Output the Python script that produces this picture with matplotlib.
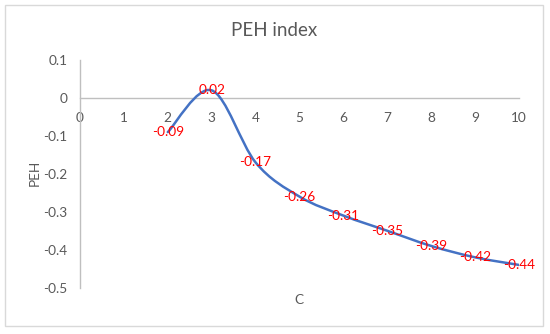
import matplotlib
matplotlib.use("Agg")
import matplotlib.pyplot as plt
from matplotlib.path import Path
from matplotlib.patches import PathPatch, Rectangle
import numpy as np

plt.rcParams['font.family'] = ['Lato', 'DejaVu Sans']

x_vals = [2, 3, 4, 5, 6, 7, 8, 9, 10]
peh_vals = [-0.09, 0.02, -0.17, -0.26, -0.31, -0.35, -0.39, -0.42, -0.44]
label_texts = ["-0.09", "0.02", "-0.17", "-0.26", "-0.31", "-0.35", "-0.39", "-0.42", "-0.44"]
x_ticks = list(range(0, 11))
y_ticks = [0.1, 0, -0.1, -0.2, -0.3, -0.4, -0.5]
y_tick_labels = ["0.1", "0", "-0.1", "-0.2", "-0.3", "-0.4", "-0.5"]

W, H = 550, 334
fig = plt.figure(figsize=(W / 100, H / 100), dpi=100)
ax = fig.add_axes([80 / W, (H - 287.7) / H, (519 - 80) / W, (287.7 - 60) / H])

axis_col = '#BFBFBF'
text_col = '#595959'

ax.set_xlim(0, 10)
ax.set_ylim(-0.5, 0.1)
for s in ['top', 'right']:
    ax.spines[s].set_visible(False)
ax.spines['bottom'].set_position(('data', 0))
ax.spines['bottom'].set_color(axis_col)
ax.spines['left'].set_color(axis_col)
ax.spines['bottom'].set_linewidth(1.0)
ax.spines['left'].set_linewidth(1.0)
ax.set_xticks(x_ticks)
ax.set_xticklabels([str(t) for t in x_ticks])
ax.set_yticks(y_ticks)
ax.set_yticklabels(y_tick_labels)
ax.tick_params(axis='both', length=0, labelsize=9.8, labelcolor=text_col)
ax.tick_params(axis='x', pad=10)
ax.tick_params(axis='y', pad=9)
ax.patch.set_alpha(0)

# Excel-like smoothed line (cubic Bezier through points)
pts = np.column_stack([x_vals, peh_vals]).astype(float)
n = len(pts)
verts = [pts[0]]
codes = [Path.MOVETO]
for i in range(n - 1):
    p0 = pts[i - 1] if i > 0 else pts[i]
    p1 = pts[i]
    p2 = pts[i + 1]
    p3 = pts[i + 2] if i + 2 < n else pts[i + 1]
    c1 = p1 + (p2 - p0) / 6.0
    c2 = p2 - (p3 - p1) / 6.0
    verts += [c1, c2, p2]
    codes += [Path.CURVE4] * 3
path = Path(verts, codes)
ax.add_patch(PathPatch(path, facecolor='none', edgecolor='#4472C4', lw=1.8,
                       capstyle='round', joinstyle='round', zorder=3))

for xv, yv, t in zip(x_vals, peh_vals, label_texts):
    ax.text(xv, yv, t, ha='center', va='center', color='#FF0000', fontsize=9.8, zorder=4)

fig.text(274 / W, 1 - 30 / H, "PEH index", ha='center', va='center', fontsize=13.5, color=text_col)
fig.text(299 / W, 1 - 300 / H, "C", ha='center', va='center', fontsize=9.8, color=text_col)
fig.text(35 / W, 1 - 173 / H, "PEH", ha='center', va='center', rotation=90, fontsize=9.8, color=text_col)

fig.patches.append(Rectangle((5 / W, (H - 326) / H), 538 / W, 321 / H, transform=fig.transFigure,
                             fill=False, edgecolor='#D9D9D9', lw=1.0))

fig.savefig("out.png", dpi=100)
